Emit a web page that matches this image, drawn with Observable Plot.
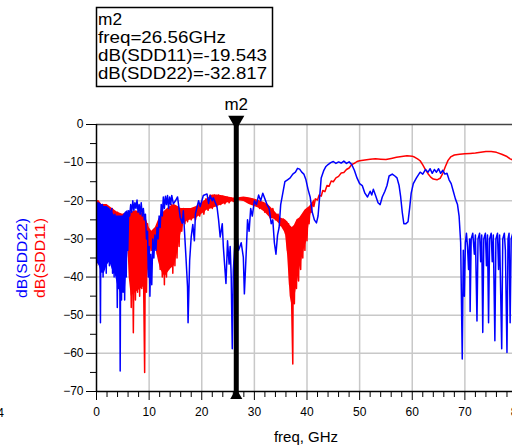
<!DOCTYPE html>
<html><head><meta charset="utf-8">
<script src="https://cdn.jsdelivr.net/npm/d3@7"></script>
<script src="https://cdn.jsdelivr.net/npm/@observablehq/plot@0.6"></script>
<style>
html,body{margin:0;padding:0;background:#fff;overflow:hidden;width:512px;height:448px}
#chart{position:relative;width:512px;height:448px;overflow:hidden}
#chart svg{max-width:none !important;font-family:"Liberation Sans",Arial,sans-serif}
</style></head><body><div id="chart"></div>
<script>
// ---- data (freq GHz, dB) ----
const xMajor = [0,10,20,30,40,50,60,70,80];
const xMinor = [2,4,6,8,12,14,16,18,22,24,26,28,32,34,36,38,42,44,46,48,52,54,56,58,62,64,66,68,72,74,76,78];
const yMajor = [0,-10,-20,-30,-40,-50,-60,-70];
const yMinor = [-5,-15,-25,-35,-45,-55,-65];

const markerName = "m2";
const markerFreq = 26.56;
const markerLines = ["m2","freq=26.56GHz","dB(SDD11)=-19.543","dB(SDD22)=-32.817"];
const seriesNames = ["dB(SDD22)","dB(SDD11)"];
const xTitle = "freq, GHz";

// dense envelope of dB(SDD11): [freq, upper, lower]
const sdd11Band = [[0,-20,-37],[0.5,-20,-33],[1,-21,-30],[2,-21,-29],[3,-22,-29],[4,-23,-28],[5,-23.5,-28],[5.9,-23,-30],[6.2,-23,-40],[6.6,-23,-45],[7.5,-22.6,-44],[8.5,-23,-43],[9.5,-25,-42],[10,-27,-36],[10.5,-28,-32],[11.2,-27,-32],[11.8,-25,-36],[12.2,-24,-38],[13,-22.6,-40],[14,-21.5,-38],[14.8,-21,-37],[15.5,-21.5,-33],[16,-22,-29],[16.5,-22,-26],[17,-22,-25.5],[18,-22,-25],[19,-21.5,-24.5],[20,-20.5,-23.5],[21,-19.5,-22.5],[22,-18.5,-22],[23,-18.5,-21.5],[24,-18.7,-21],[25,-19,-20.5],[26,-19.3,-20.2],[27,-19.2,-20],[28,-19,-20.2],[29,-19.2,-21],[30,-19.5,-21.5],[31,-20,-22],[32,-20.5,-23],[33,-21.5,-24.5],[34,-23,-25],[35,-24.5,-26.5],[35.9,-25,-28.6],[36.3,-25.5,-34],[36.8,-26.5,-45],[37.2,-27,-48],[37.6,-26.5,-46],[38.1,-25,-42],[38.6,-24.5,-38],[39.1,-23.5,-35],[39.6,-22.5,-32],[40,-22,-30.5],[40.5,-21.5,-25],[41,-20.5,-22],[41.5,-19.5,-20.5]];

// dB(SDD11) trace
const sdd11 = [[0,-37],[0.1,-20],[0.3,-33],[0.5,-20.5],[0.8,-30],[1.1,-21],[1.5,-29],[2,-21.5],[2.5,-28],[3,-22],[3.5,-29],[4,-23],[4.5,-28],[5,-24],[5.5,-27],[5.9,-24],[6.2,-34],[6.4,-25],[6.6,-48],[6.8,-25],[7.0,-54.6],[7.2,-26],[7.4,-46],[7.6,-24],[7.8,-44],[8.0,-23],[8.2,-45],[8.4,-22.5],[8.6,-43],[8.8,-23],[9.0,-47],[9.15,-65],[9.3,-25],[9.5,-44],[9.7,-26],[9.9,-38],[10.1,-28],[10.4,-33],[10.7,-29],[11.0,-31],[11.3,-27],[11.6,-34],[11.9,-25],[12.1,-38],[12.3,-24],[12.5,-40],[12.7,-23],[12.9,-42],[13.1,-23],[13.3,-40],[13.5,-22],[13.7,-38],[13.9,-22],[14.1,-37],[14.3,-21],[14.5,-39],[14.7,-22],[14.9,-37],[15.1,-22],[15.3,-35],[15.5,-22],[15.7,-32],[15.9,-22],[16.2,-28],[16.5,-22],[16.8,-26],[17,-23],[17.3,-25.5],[17.6,-22.5],[18,-25],[18.4,-22.5],[18.8,-25],[19.2,-22],[19.6,-24],[20,-21],[20.4,-23.5],[20.8,-19.5],[21.2,-22.5],[21.6,-18.5],[22,-22],[22.4,-18.5],[22.8,-21.5],[23.2,-18.5],[23.6,-21],[24,-18.8],[24.4,-20.8],[24.8,-19],[25.2,-20.5],[25.6,-19.3],[26,-20.2],[26.56,-19.543],[27,-19.5],[27.5,-19.3],[28,-19.8],[28.5,-19.2],[29,-20.5],[29.5,-19.5],[30,-21],[30.5,-20],[31,-22],[31.5,-20.5],[32,-23],[32.5,-21],[33,-24.5],[33.5,-22],[34,-25],[34.5,-23.5],[35,-26.5],[35.5,-24.8],[35.9,-28.6],[36.1,-25.5],[36.3,-33],[36.5,-26],[36.7,-42],[36.9,-27],[37.1,-48],[37.3,-62.8],[37.4,-28],[37.6,-47],[37.8,-27],[38,-43],[38.2,-26],[38.4,-41],[38.6,-25],[38.8,-38],[39,-24],[39.2,-35],[39.4,-23.5],[39.6,-33],[39.8,-22.5],[40,-30.5],[40.2,-22],[40.4,-26],[40.6,-21.5],[40.8,-23],[41,-20.5],[41.3,-21.5],[41.6,-19.5],[42,-19.8],[42.3,-18.5],[42.7,-18.8],[43,-17.3],[43.4,-17.6],[43.8,-16],[44.2,-16.2],[44.6,-14.8],[45,-15],[45.5,-14],[46,-13.6],[46.5,-12.7],[47,-12.6],[47.5,-11.8],[48,-11.4],[48.5,-10.5],[49,-10.2],[49.5,-9.7],[50,-9.5],[51,-9.3],[52,-9.1],[53,-9.0],[54,-9.1],[55,-9.2],[56,-8.9],[57,-8.6],[58,-8.4],[59,-8.2],[60,-8.3],[60.5,-8.6],[61,-9.0],[61.5,-9.5],[62,-10.6],[62.5,-11.8],[63,-12.9],[63.5,-13.8],[64,-14.3],[64.7,-14.5],[65.3,-14.1],[65.8,-12.8],[66.3,-11],[66.8,-9.4],[67.3,-8.5],[68,-8.0],[69,-7.8],[70,-7.7],[71,-7.6],[72,-7.5],[73,-7.3],[74,-7.1],[75,-7.1],[76,-7.3],[77,-7.8],[78,-8.4],[78.6,-9],[79.3,-9.4],[80,-9.8]];

// dense envelope of dB(SDD22): [freq, upper, lower]
const sdd22Band = [[0,-20.5,-36],[0.5,-20.5,-37],[1,-21,-39],[1.5,-21.5,-39],[2,-21.5,-37],[2.5,-22,-36],[3,-23,-38],[3.5,-24,-39],[4,-24,-42],[4.5,-24,-44],[5,-24,-44],[5.5,-23,-43],[6,-22.5,-33]];

// dB(SDD22) trace
const sdd22 = [[0,-28],[0.1,-21],[0.2,-36],[0.3,-22],[0.45,-33],[0.6,-21],[0.75,-52],[0.85,-24],[1.0,-38],[1.1,-21],[1.25,-40],[1.4,-22],[1.55,-35],[1.7,-21.5],[1.85,-39],[2.0,-23],[2.15,-36],[2.3,-22],[2.45,-37],[2.6,-23],[2.75,-34],[2.9,-22],[3.05,-39],[3.2,-24],[3.35,-40],[3.5,-23.5],[3.65,-37],[3.8,-25],[3.95,-48],[4.1,-26],[4.25,-43],[4.4,-28],[4.5,-64.6],[4.6,-30],[4.75,-46],[4.9,-25],[5.05,-44],[5.2,-24],[5.35,-46],[5.5,-26],[5.65,-40],[5.8,-23],[5.95,-33],[6.1,-22.6],[6.3,-24],[6.5,-21],[6.7,-23],[6.9,-20],[7.1,-22.5],[7.3,-20.5],[7.5,-22],[7.7,-19.8],[7.9,-23],[8.1,-21],[8.3,-23.5],[8.5,-20.5],[8.7,-24],[8.9,-22],[9.1,-25],[9.3,-23.5],[9.5,-30],[9.7,-28],[9.85,-40],[10.0,-32],[10.15,-45],[10.3,-34],[10.5,-42],[10.7,-30],[10.9,-35],[11.1,-29],[11.3,-33],[11.5,-27],[11.7,-30],[11.9,-24],[12.1,-27],[12.3,-21],[12.5,-24],[12.7,-19],[12.9,-22],[13.1,-18.8],[13.3,-21],[13.5,-18.6],[13.7,-22],[13.9,-19],[14.1,-21],[14.3,-18.6],[14.6,-20.8],[15,-20],[15.4,-19],[15.9,-24.3],[16.3,-25.9],[16.5,-22.6],[17,-34.8],[17.3,-42.6],[17.4,-52],[17.7,-35.7],[18,-29.4],[18.3,-26.2],[18.6,-30.5],[18.8,-23.4],[19.4,-20],[19.7,-21.5],[20.3,-18.6],[21,-18.2],[21.3,-20.7],[21.6,-18.6],[22,-20],[22.2,-19.2],[22.9,-21.6],[23.2,-25],[23.5,-29.5],[23.9,-26],[24.1,-32],[24.6,-41.7],[24.9,-30.5],[25.2,-36.6],[25.4,-32],[25.6,-40],[25.8,-58.8],[26,-38.3],[26.3,-31],[26.56,-32.817],[26.8,-30],[27,-33],[27.5,-31],[27.9,-34.8],[28.1,-44.4],[28.5,-32],[28.7,-25],[29.0,-28],[29.3,-22],[29.6,-24],[30.0,-20],[30.4,-21],[30.8,-18.5],[31.2,-20],[31.6,-18],[32.0,-19.5],[32.4,-21],[32.8,-22],[33.2,-26],[33.5,-25],[33.8,-31],[34.1,-34],[34.4,-29],[34.7,-27],[35.0,-21],[35.4,-18],[35.8,-15],[36.3,-14.5],[36.8,-14],[37.3,-13],[37.8,-12.5],[38.2,-11.5],[38.6,-11.7],[39.0,-12.5],[39.4,-13],[39.8,-14.5],[40.2,-17],[40.6,-19],[41.0,-23],[41.4,-25],[41.8,-25.8],[42.1,-24],[42.4,-19],[42.7,-14],[43.2,-12],[43.6,-11],[44.0,-10.5],[44.5,-10],[45,-9.7],[45.5,-10.2],[46,-9.8],[46.5,-10.1],[47,-9.6],[47.5,-10.2],[48,-9.8],[48.5,-10.5],[49,-12],[49.5,-14],[50,-15.5],[50.5,-16],[51,-18],[51.5,-19],[52,-17.5],[52.3,-18.5],[52.6,-17],[53,-18.5],[53.5,-20.5],[53.9,-21],[54.3,-19],[54.8,-17.5],[55.2,-16],[55.6,-13.5],[56.2,-13],[56.7,-13.5],[57.1,-14],[57.5,-16],[57.8,-19],[58.1,-23],[58.4,-26],[58.8,-26],[59.2,-25.5],[59.5,-22],[59.8,-18],[60.2,-15.5],[60.8,-14],[61.5,-12.5],[62,-13],[62.5,-11.8],[63,-12.5],[63.4,-11.6],[63.8,-12.8],[64.2,-11.8],[64.6,-12.5],[65,-11.6],[65.4,-12.8],[65.8,-12],[66.2,-13],[66.6,-12.8],[67.0,-14.5],[67.4,-15.5],[67.8,-17.5],[68.2,-19.5],[68.6,-21],[68.9,-24],[69.2,-31],[69.5,-61.5],[69.7,-33],[69.9,-45],[70.1,-31],[70.3,-28.5],[70.5,-32],[70.7,-38],[70.9,-30],[71.0,-49],[71.2,-30],[71.5,-28.5],[71.8,-34],[72.0,-29],[72.3,-51.5],[72.5,-30],[72.8,-28.5],[73.0,-36],[73.2,-29],[73.4,-54.5],[73.6,-30],[73.9,-28.5],[74.1,-37],[74.3,-29],[74.5,-52],[74.7,-30],[75.0,-28.5],[75.2,-36],[75.4,-29],[75.7,-56.7],[75.9,-30],[76.2,-28.5],[76.4,-38],[76.6,-29],[77.0,-58.8],[77.2,-30],[77.5,-28.5],[77.7,-33],[78.0,-59.8],[78.2,-30],[78.4,-28.5],[78.6,-52],[78.8,-30],[79.1,-28.5],[79.4,-35],[79.7,-29],[80,-31]];

const RED = "#ff0000", BLUE = "#0000ff";
const gridStyle = {stroke: "#c8c8c8", strokeOpacity: 1, strokeWidth: 1.5};

const plot = Plot.plot({
  width: 520, height: 448,
  marginLeft: 96, marginRight: 3, marginTop: 124, marginBottom: 57,
  style: {fontFamily: "'Liberation Sans', Arial, sans-serif", fontSize: "12px", maxWidth: "none", background: "white", color: "black"},
  x: {domain: [0, 80]},
  y: {domain: [-70, 0]},
  marks: [
    Plot.gridX(xMajor.filter(d => d > 0 && d < 80), gridStyle),
    Plot.gridY(yMajor.filter(d => d > -70 && d < 0), gridStyle),
    Plot.areaY(sdd11Band, {x: d => d[0], y1: d => d[1], y2: d => d[2], fill: RED, clip: true}),
    Plot.line(sdd11, {x: d => d[0], y: d => d[1], stroke: RED, strokeWidth: 1.5, clip: true}),
    Plot.areaY(sdd22Band, {x: d => d[0], y1: d => d[1], y2: d => d[2], fill: BLUE, clip: true}),
    Plot.line(sdd22, {x: d => d[0], y: d => d[1], stroke: BLUE, strokeWidth: 1.5, clip: true}),
    Plot.ruleY([0], {stroke: "#444", strokeWidth: 1.5}),
    Plot.ruleY([-70], {stroke: "black", strokeWidth: 1.5}),
    Plot.ruleX([0], {stroke: "black", strokeWidth: 1.5}),
    Plot.axisY(yMajor, {tickSize: 10, tickPadding: 3, label: null, fontSize: 12}),
    Plot.axisY(yMinor, {tickSize: 6, text: null, label: null}),
    Plot.axisX(xMajor, {tickSize: 9, tickPadding: 7, label: null, fontSize: 12}),
    Plot.axisX(xMinor, {tickSize: 6, text: null, label: null}),
    Plot.ruleX([markerFreq], {y1: 1.2, y2: -71.6, stroke: "black", strokeWidth: 5}),
    Plot.dot([markerFreq], {x: d => d, y: 0, dy: -4, symbol: "triangle", r: 6, fill: "black", stroke: "none", rotate: 180}),
    Plot.dot([markerFreq], {x: d => d, y: -70, dy: 4, symbol: "triangle", r: 4.5, fill: "black", stroke: "none"}),
    Plot.text([markerName], {x: markerFreq, y: 0, dy: -20, text: d => d, fontSize: 17, fill: "black"})
  ]
});
document.getElementById("chart").appendChild(plot);

// marker readout box, axis titles
const svg = d3.select(plot);
const ff = "'Liberation Sans', Arial, sans-serif";
svg.append("rect").attr("x", 96.5).attr("y", 7.5).attr("width", 176).attr("height", 79)
  .attr("fill", "white").attr("stroke", "black").attr("stroke-width", 1.5);
const lens = [24, 128, 169, 169];
markerLines.forEach((t, i) => {
  svg.append("text").attr("x", 98).attr("y", 25 + i * 18).attr("font-family", ff)
    .attr("text-anchor", "start")
    .attr("font-size", 17).attr("fill", "black")
    .attr("textLength", lens[i]).attr("lengthAdjust", "spacingAndGlyphs").text(t);
});
svg.append("text").attr("transform", "translate(27,258) rotate(-90)").attr("text-anchor", "middle")
  .attr("font-family", ff).attr("font-size", 15).attr("fill", BLUE)
  .attr("textLength", 80).attr("lengthAdjust", "spacingAndGlyphs").text(seriesNames[0]);
svg.append("text").attr("transform", "translate(45,258) rotate(-90)").attr("text-anchor", "middle")
  .attr("font-family", ff).attr("font-size", 15).attr("fill", RED)
  .attr("textLength", 80).attr("lengthAdjust", "spacingAndGlyphs").text(seriesNames[1]);
svg.append("text").attr("x", 306).attr("y", 442).attr("text-anchor", "middle")
  .attr("font-family", ff).attr("font-size", 15).attr("fill", "black").text(xTitle);
svg.append("text").attr("x", 4).attr("y", 417).attr("text-anchor", "end")
  .attr("font-family", ff).attr("font-size", 12).attr("fill", "black").text("4");
</script></body></html>
